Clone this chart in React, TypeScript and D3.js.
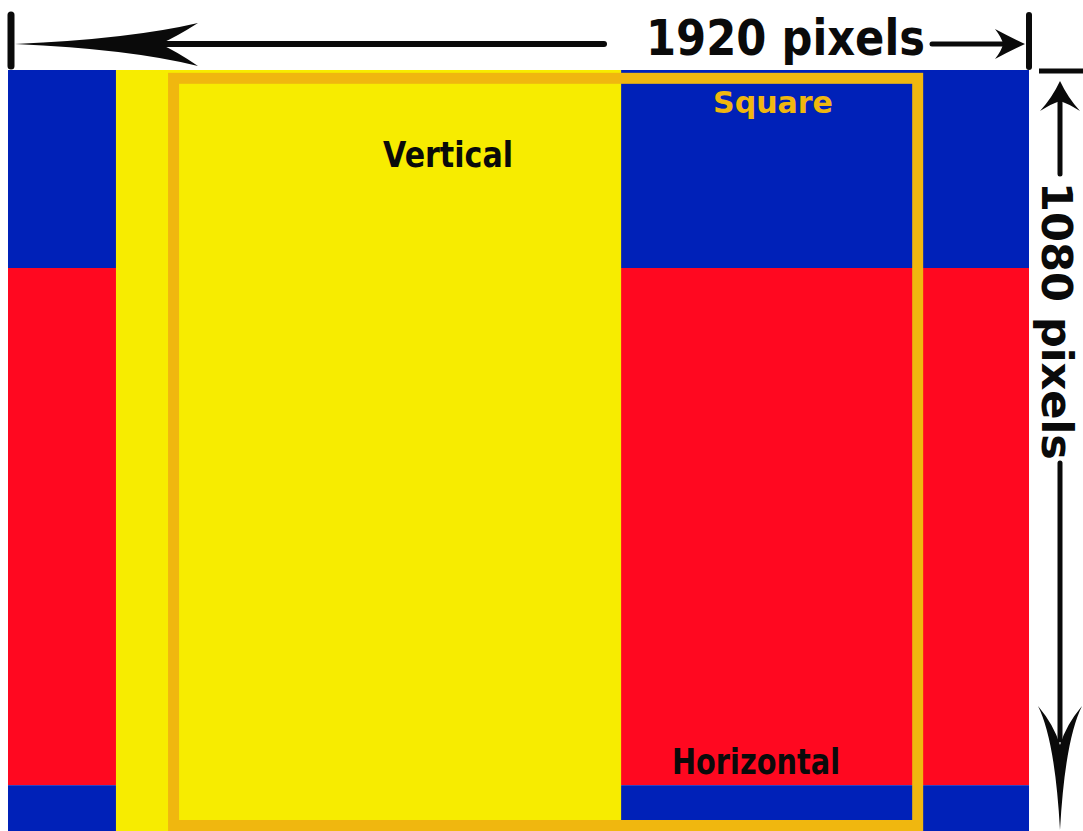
import * as d3 from 'd3'

// Frame is described in its own units (1920 x 1080).
const frameSize = [1920, 1080]
const bandEdges = [0, 281, 1015, 1080]
const bandKinds = ['blue', 'red', 'blue']
const verticalSpan = [203, 1153]
const squareSpanX = [301, 1721]
const squareSpanY = [4, 1080]

const widthLabel = '1920 pixels'
const heightLabel = '1080 pixels'
const regionLabels = ['Vertical', 'Square', 'Horizontal']

const colors: Record<string, string> = {
  blue: '#0021b8',
  red: '#ff0820',
  yellow: '#f7ec00',
  orange: '#f0b70f',
  ink: '#0a0a0a',
}

const font = '"Comic Sans MS", "DejaVu Sans", sans-serif'

export default function App() {
  const W = 1083
  const H = 831
  const x = d3.scaleLinear().domain([0, frameSize[0]]).range([8, 1029])
  const y = d3.scaleLinear().domain([0, frameSize[1]]).range([70, 831])

  const sw = 11
  const sqX0 = x(squareSpanX[0])
  const sqX1 = x(squareSpanX[1])
  const sqY0 = y(squareSpanY[0])
  const sqY1 = y(squareSpanY[1])

  // arrow heads
  const leftHead = d3.path()
  leftHead.moveTo(15, 44)
  leftHead.quadraticCurveTo(130, 39, 198, 23)
  leftHead.quadraticCurveTo(176, 37, 160, 44)
  leftHead.quadraticCurveTo(176, 51, 198, 66)
  leftHead.quadraticCurveTo(130, 49, 15, 44)
  leftHead.closePath()

  const rightHead = d3.path()
  rightHead.moveTo(1025, 44)
  rightHead.quadraticCurveTo(1008, 36, 995, 29)
  rightHead.quadraticCurveTo(1002, 38, 1003, 44)
  rightHead.quadraticCurveTo(1002, 50, 995, 59)
  rightHead.quadraticCurveTo(1008, 52, 1025, 44)
  rightHead.closePath()

  const upHead = d3.path()
  upHead.moveTo(1060, 81)
  upHead.quadraticCurveTo(1052, 98, 1040, 111)
  upHead.quadraticCurveTo(1053, 103, 1060, 101)
  upHead.quadraticCurveTo(1067, 103, 1080, 111)
  upHead.quadraticCurveTo(1068, 98, 1060, 81)
  upHead.closePath()

  const downHead = d3.path()
  downHead.moveTo(1060, 830)
  downHead.quadraticCurveTo(1055, 740, 1038, 706)
  downHead.quadraticCurveTo(1054, 725, 1060, 745)
  downHead.quadraticCurveTo(1066, 725, 1082, 706)
  downHead.quadraticCurveTo(1065, 740, 1060, 830)
  downHead.closePath()

  return (
    <svg
      width={W}
      height={H}
      style={{ position: 'absolute', left: 0, top: 0, background: '#fff' }}
    >
      {bandKinds.map((k, i) => (
        <rect
          key={i}
          x={x(0)}
          y={y(bandEdges[i])}
          width={x(frameSize[0]) - x(0)}
          height={y(bandEdges[i + 1]) - y(bandEdges[i])}
          fill={colors[k]}
        />
      ))}
      <rect
        x={x(verticalSpan[0])}
        y={y(0)}
        width={x(verticalSpan[1]) - x(verticalSpan[0])}
        height={y(frameSize[1]) - y(0)}
        fill={colors.yellow}
      />
      <rect
        x={sqX0 + sw / 2}
        y={sqY0 + sw / 2}
        width={sqX1 - sqX0 - sw}
        height={sqY1 - sqY0 - sw}
        fill="none"
        stroke={colors.orange}
        strokeWidth={sw}
      />

      <g fontFamily={font} fontWeight="bold">
        <text x={383} y={167} fontSize={36} textLength={130} lengthAdjust="spacingAndGlyphs" fill={colors.ink}>
          {regionLabels[0]}
        </text>
        <text x={713} y={113} fontSize={31} textLength={120} lengthAdjust="spacingAndGlyphs" fill={colors.orange}>
          {regionLabels[1]}
        </text>
        <text x={672} y={774} fontSize={35} textLength={168} lengthAdjust="spacingAndGlyphs" fill={colors.ink}>
          {regionLabels[2]}
        </text>

        <text x={646} y={55} fontSize={50} textLength={279} lengthAdjust="spacingAndGlyphs" fill={colors.ink}>
          {widthLabel}
        </text>
        <text
          transform="translate(1042,182) rotate(90)"
          fontSize={43}
          textLength={278}
          lengthAdjust="spacingAndGlyphs"
          fill={colors.ink}
        >
          {heightLabel}
        </text>
      </g>

      <g stroke={colors.ink} strokeLinecap="round">
        <line x1={11} x2={11} y1={15} y2={66} strokeWidth={7} />
        <line x1={160} x2={604} y1={44} y2={44} strokeWidth={6} />
        <line x1={932} x2={1006} y1={44} y2={44} strokeWidth={5} />
        <line x1={1029} x2={1029} y1={15} y2={67} strokeWidth={6} />
        <line x1={1039} x2={1090} y1={71} y2={71} strokeWidth={5} strokeLinecap="butt" />
        <line x1={1060} x2={1060} y1={100} y2={174} strokeWidth={5} />
        <line x1={1060} x2={1060} y1={463} y2={740} strokeWidth={5} />
      </g>
      <g fill={colors.ink}>
        <path d={leftHead.toString()} />
        <path d={rightHead.toString()} />
        <path d={upHead.toString()} />
        <path d={downHead.toString()} />
      </g>
    </svg>
  )
}
